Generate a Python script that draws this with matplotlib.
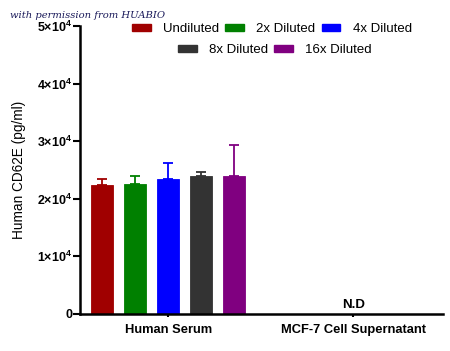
import matplotlib
matplotlib.use("Agg")
import matplotlib.pyplot as plt
import numpy as np
from matplotlib.patches import Patch

plt.rcParams['font.family'] = ['Liberation Sans', 'DejaVu Sans']
plt.rcParams['mathtext.fontset'] = 'custom'
plt.rcParams['mathtext.rm'] = 'Liberation Sans'
plt.rcParams['mathtext.bf'] = 'Liberation Sans:bold'

groups = ["Human Serum", "MCF-7 Cell Supernatant"]
series = ["Undiluted", "2x Diluted", "4x Diluted", "8x Diluted", "16x Diluted"]
colors = ["#a00000", "#008000", "#0000ff", "#333333", "#800080"]
serum_values = [22400, 22600, 23400, 24000, 24000]
serum_errors = [1000, 1400, 2800, 700, 5400]
yticks = [0, 10000, 20000, 30000, 40000, 50000]
ytick_labels = ["0", r"$\mathbf{1{\times}10^4}$", r"$\mathbf{2{\times}10^4}$",
                r"$\mathbf{3{\times}10^4}$", r"$\mathbf{4{\times}10^4}$", r"$\mathbf{5{\times}10^4}$"]

fig = plt.figure(figsize=(4.5, 3.51), dpi=100)
ax = fig.add_axes([80/450, 37/351, 363/450, 288/351])

width = 0.119
step = 0.178
for i, (v, e, c, s) in enumerate(zip(serum_values, serum_errors, colors, series)):
    x = (i - 2) * step
    ax.bar(x, v, width=width, color=c, edgecolor=c, linewidth=0.6, zorder=2)
    ax.errorbar(x, v, yerr=[[0], [e]], color=c, capsize=3.8, capthick=1.3, elinewidth=1.3, zorder=3)

ax.text(1, 1600, "N.D", ha="center", va="center", fontsize=9.5, fontweight="bold")

ax.set_xlim(-0.476, 1.486)
ax.set_ylim(0, 50000)
ax.set_xticks([0, 1])
ax.set_xticklabels(groups, fontsize=9.3, fontweight="bold")
ax.set_yticks(yticks)
ax.set_yticklabels(ytick_labels, fontsize=9)
for lab in ax.get_yticklabels():
    lab.set_fontweight("bold")
ax.tick_params(axis='x', length=2, width=1.5, pad=5)
ax.tick_params(axis='y', length=5, width=1.5, pad=0.5)
ax.set_ylabel("Human CD62E (pg/ml)", fontsize=9.8, labelpad=8)

for sp in ["top", "right"]:
    ax.spines[sp].set_visible(False)
ax.spines["left"].set_linewidth(1.8)
ax.spines["bottom"].set_linewidth(1.8)

h1 = [Patch(facecolor=colors[i], edgecolor=colors[i]) for i in range(3)]
h2 = [Patch(facecolor=colors[i], edgecolor=colors[i]) for i in range(3, 5)]
kw = dict(frameon=False, fontsize=9.5, handlelength=1.4, handleheight=0.4,
          handletextpad=0.95, columnspacing=0.45, borderpad=0)
leg1 = fig.legend(h1, series[:3], loc="center", bbox_to_anchor=(272/450, 1 - 29.5/351), ncol=3, **kw)
leg2 = fig.legend(h2, series[3:], loc="center", bbox_to_anchor=(275/450, 1 - 50/351), ncol=2, **kw)

fig.text(10/450, 1 - 15/351, "with permission from HUABIO", fontsize=7.2, style="italic",
         family="DejaVu Serif", color="#1a1a5a", va="center")

fig.savefig("out.png", dpi=100)
